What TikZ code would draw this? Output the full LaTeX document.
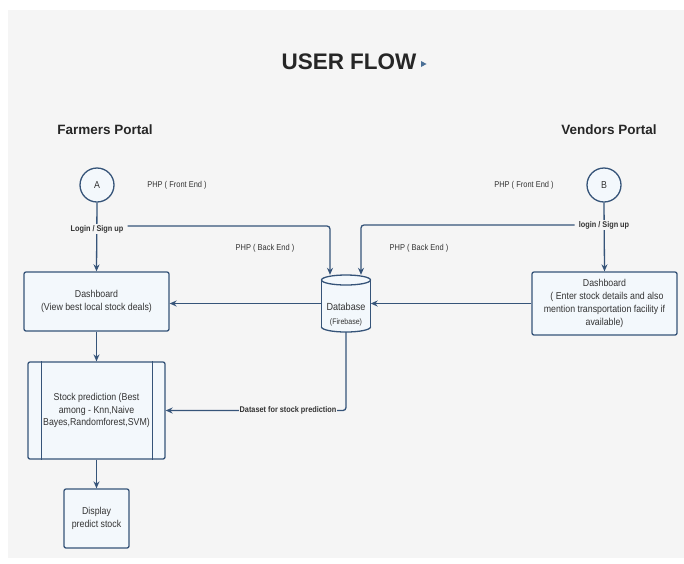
\documentclass[tikz,border=0pt]{standalone}
\usepackage{fontspec}
\setmainfont{Liberation Sans}
\newfontfamily\narrowfont[FakeStretch=0.88]{Liberation Sans}
\usetikzlibrary{arrows.meta}
\definecolor{panel}{HTML}{F5F5F5}
\definecolor{edge}{HTML}{365479}
\definecolor{boxfill}{HTML}{F3F8FC}
\definecolor{ink}{HTML}{333333}
\definecolor{headink}{HTML}{262626}
\definecolor{marker}{HTML}{4A6F96}

\tikzset{
  flowbox/.style={draw=edge, fill=boxfill, rounded corners=2pt, line width=1.3pt,
    align=center, inner sep=0pt, text=ink,
    font=\narrowfont\fontsize{10}{12.5}\selectfont},
  portal/.style={circle, draw=edge, fill=boxfill, line width=1.3pt, minimum size=34pt,
    inner sep=0pt, text=ink, font=\narrowfont\fontsize{10}{12}\selectfont},
  wire/.style={draw=edge, line width=1.3pt, rounded corners=3pt},
  link/.style={wire, -{Stealth[length=7pt,width=6pt]}},
  note/.style={text=ink, font=\narrowfont\fontsize{8.5}{10}\selectfont},
  tag/.style={text=ink, fill=panel, inner sep=1pt,
    font=\narrowfont\bfseries\fontsize{8.3}{10}\selectfont},
  heading/.style={text=headink, font=\bfseries\fontsize{13.5}{16}\selectfont},
}

\begin{document}
\begin{tikzpicture}[x=1pt,y=-1pt]
\useasboundingbox (0,0) rectangle (684,563);
\fill[white] (0,0) rectangle (684,563);
\fill[panel] (8,10) rectangle (684,558);

% title and portal headings
\node[text=headink, font=\bfseries\fontsize{22.5}{26}\selectfont] (title) at (349,62) {USER FLOW};
\fill[marker] (421,61) -- (426.5,64) -- (421,67) -- cycle;
\node[heading] (fhead) at (105,130) {Farmers Portal};
\node[heading] (vhead) at (609,130) {Vendors Portal};

% start points
\node[portal] (A) at (97,185) {A};
\node[portal] (B) at (604,185) {B};
\node[note] (ffront) at (177,185) {PHP ( Front End )};
\node[note] (vfront) at (524,185) {PHP ( Front End )};
\node[note] (fback) at (265,248) {PHP ( Back End )};
\node[note] (vback) at (419,248) {PHP ( Back End )};

% boxes
\node[flowbox, minimum width=145pt, minimum height=59pt] (fdash) at (96.5,301.5)
  {Dashboard\\(View best local stock deals)};
\node[flowbox, minimum width=145pt, minimum height=63pt, font=\narrowfont\fontsize{10}{13}\selectfont] (vdash) at (604.5,303.5)
  {Dashboard\\\ \ ( Enter stock details and also\\mention transportation facility if\\available)};
\node[flowbox, minimum width=137pt, minimum height=97pt] (stock) at (96.5,410.5)
  {Stock prediction (Best\\among - Knn,Naive\\Bayes,Randomforest,SVM)};
\draw[edge, line width=1.3pt] ([xshift=14pt]stock.north west) -- ([xshift=14pt]stock.south west);
\draw[edge, line width=1.3pt] ([xshift=-13pt]stock.north east) -- ([xshift=-13pt]stock.south east);
\node[flowbox, minimum width=65pt, minimum height=59pt] (display) at (96.5,518.5)
  {Display\\predict stock};

% database cylinder
\node[minimum width=49pt, minimum height=57pt, inner sep=0pt] (db) at (346,303.5) {};
\filldraw[fill=boxfill, draw=edge, line width=1.3pt] (346,327) ellipse [x radius=24.5, y radius=5];
\fill[boxfill] (321.5,280) rectangle (370.5,327);
\draw[edge, line width=1.3pt] (321.5,280) -- (321.5,327) (370.5,280) -- (370.5,327);
\filldraw[fill=boxfill, draw=edge, line width=1.3pt] (346,280) ellipse [x radius=24.5, y radius=5];
\node[text=ink, font=\narrowfont\fontsize{10.3}{12}\selectfont] (dbname) at (346,307) {Database};
\node[text=ink, font=\narrowfont\fontsize{8}{9}\selectfont] (dbsub) at (346,322) {(Firebase)};

% connectors
\draw[link] (A.south) -- (fdash.north);
\draw[link] (B.south) -- (vdash.north);
\node[tag] (flogin) at (97,229) {Login / Sign up};
\node[tag] (vlogin) at (604,225) {login / Sign up};
\draw[link] ([xshift=3pt]flogin.east |- 0,226) -| ([xshift=-16pt]db.north);
\draw[link] ([xshift=-3pt]vlogin.west) -| ([xshift=15pt]db.north);
\draw[link] (db.west) -- (fdash.east |- db.west);
\draw[link] (vdash.west) -- (db.east);
\draw[link] (fdash.south) -- (stock.north);
\draw[link] (db.south) |- (stock.east);
\node[tag] (dataset) at (288,410) {Dataset for stock prediction};
\draw[link] (stock.south) -- (display.north);
\end{tikzpicture}
\end{document}
